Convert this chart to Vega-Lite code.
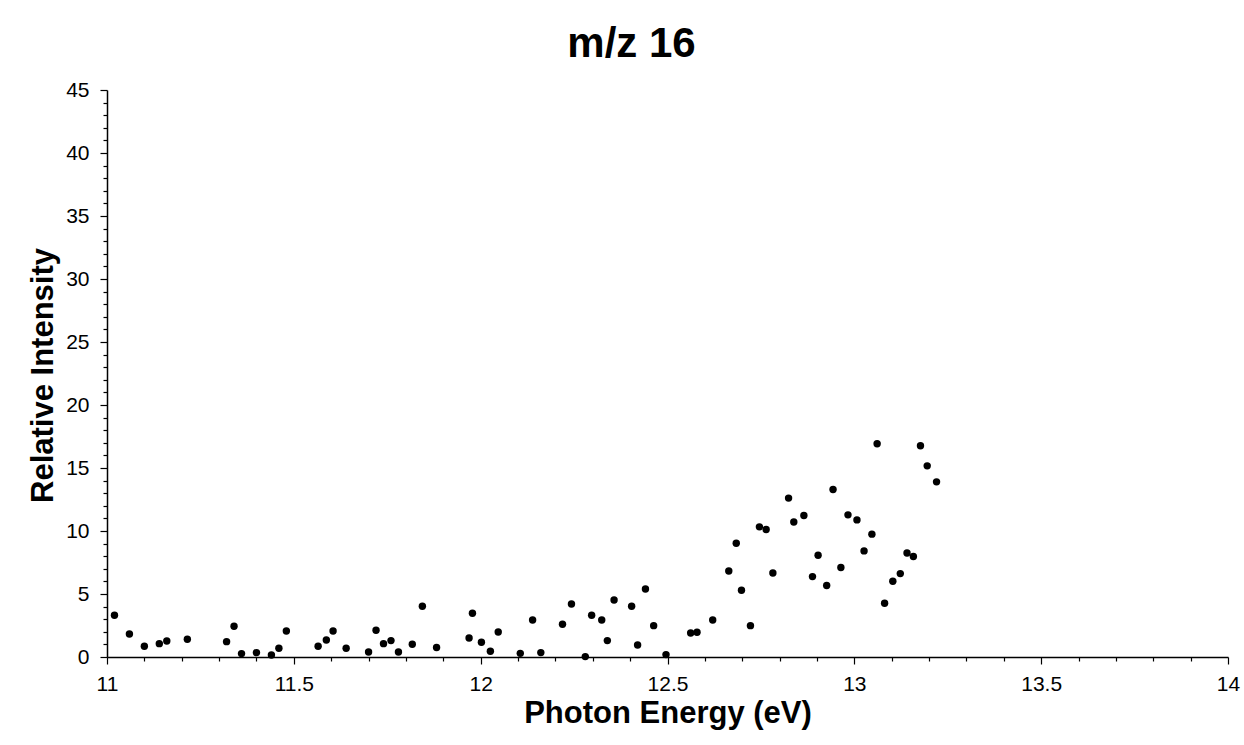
{
  "$schema": "https://vega.github.io/schema/vega-lite/v6.json",
  "width": 1121,
  "height": 567,
  "autosize": {"type": "none"},
  "padding": {"left": 107, "top": 90, "right": 16, "bottom": 88},
  "background": "white",
  "config": {
    "font": "Liberation Sans",
    "view": {"stroke": null},
    "axis": {"grid": false, "domainColor": "black", "domainWidth": 1.5, "tickColor": "black", "tickWidth": 1.2, "labelColor": "black", "labelFont": "Liberation Sans", "titleFont": "Liberation Sans", "titleColor": "black"}
  },
  "title": {"text": "m/z 16", "fontSize": 42, "fontWeight": "bold", "font": "Liberation Sans", "color": "black", "anchor": "middle", "dx": -36, "offset": 13},
  "data": {"values": [
    {"energy": 11.02, "intensity": 3.31},
    {"energy": 11.06, "intensity": 1.83},
    {"energy": 11.10, "intensity": 0.85},
    {"energy": 11.14, "intensity": 1.06},
    {"energy": 11.16, "intensity": 1.27},
    {"energy": 11.215, "intensity": 1.41},
    {"energy": 11.32, "intensity": 1.22},
    {"energy": 11.34, "intensity": 2.44},
    {"energy": 11.36, "intensity": 0.27},
    {"energy": 11.40, "intensity": 0.35},
    {"energy": 11.44, "intensity": 0.16},
    {"energy": 11.46, "intensity": 0.69},
    {"energy": 11.48, "intensity": 2.07},
    {"energy": 11.565, "intensity": 0.85},
    {"energy": 11.587, "intensity": 1.35},
    {"energy": 11.605, "intensity": 2.07},
    {"energy": 11.64, "intensity": 0.69},
    {"energy": 11.70, "intensity": 0.40},
    {"energy": 11.72, "intensity": 2.12},
    {"energy": 11.74, "intensity": 1.06},
    {"energy": 11.76, "intensity": 1.30},
    {"energy": 11.78, "intensity": 0.40},
    {"energy": 11.817, "intensity": 1.01},
    {"energy": 11.844, "intensity": 4.03},
    {"energy": 11.882, "intensity": 0.75},
    {"energy": 11.969, "intensity": 1.51},
    {"energy": 11.978, "intensity": 3.47},
    {"energy": 12.002, "intensity": 1.17},
    {"energy": 12.026, "intensity": 0.45},
    {"energy": 12.047, "intensity": 1.99},
    {"energy": 12.106, "intensity": 0.29},
    {"energy": 12.139, "intensity": 2.94},
    {"energy": 12.161, "intensity": 0.35},
    {"energy": 12.219, "intensity": 2.60},
    {"energy": 12.243, "intensity": 4.21},
    {"energy": 12.280, "intensity": 0.03},
    {"energy": 12.297, "intensity": 3.31},
    {"energy": 12.324, "intensity": 2.94},
    {"energy": 12.339, "intensity": 1.30},
    {"energy": 12.357, "intensity": 4.53},
    {"energy": 12.404, "intensity": 4.03},
    {"energy": 12.420, "intensity": 0.95},
    {"energy": 12.441, "intensity": 5.40},
    {"energy": 12.463, "intensity": 2.49},
    {"energy": 12.496, "intensity": 0.19},
    {"energy": 12.562, "intensity": 1.91},
    {"energy": 12.579, "intensity": 1.96},
    {"energy": 12.621, "intensity": 2.94},
    {"energy": 12.664, "intensity": 6.83},
    {"energy": 12.684, "intensity": 9.03},
    {"energy": 12.698, "intensity": 5.30},
    {"energy": 12.722, "intensity": 2.49},
    {"energy": 12.746, "intensity": 10.33},
    {"energy": 12.764, "intensity": 10.12},
    {"energy": 12.782, "intensity": 6.67},
    {"energy": 12.824, "intensity": 12.61},
    {"energy": 12.838, "intensity": 10.72},
    {"energy": 12.865, "intensity": 11.23},
    {"energy": 12.888, "intensity": 6.38},
    {"energy": 12.903, "intensity": 8.08},
    {"energy": 12.926, "intensity": 5.67},
    {"energy": 12.943, "intensity": 13.30},
    {"energy": 12.964, "intensity": 7.10},
    {"energy": 12.983, "intensity": 11.28},
    {"energy": 13.007, "intensity": 10.88},
    {"energy": 13.026, "intensity": 8.42},
    {"energy": 13.047, "intensity": 9.75},
    {"energy": 13.061, "intensity": 16.92},
    {"energy": 13.081, "intensity": 4.27},
    {"energy": 13.103, "intensity": 6.01},
    {"energy": 13.123, "intensity": 6.62},
    {"energy": 13.141, "intensity": 8.26},
    {"energy": 13.158, "intensity": 7.97},
    {"energy": 13.177, "intensity": 16.76},
    {"energy": 13.195, "intensity": 15.17},
    {"energy": 13.220, "intensity": 13.90}
  ]},
  "mark": {"type": "point", "filled": true, "shape": "circle", "size": 55, "color": "black", "opacity": 1},
  "encoding": {
    "x": {
      "field": "energy", "type": "quantitative",
      "scale": {"domain": [11, 14], "nice": false, "zero": false},
      "axis": {
        "values": [11, 11.1, 11.2, 11.3, 11.4, 11.5, 11.6, 11.7, 11.8, 11.9, 12, 12.1, 12.2, 12.3, 12.4, 12.5, 12.6, 12.7, 12.8, 12.9, 13, 13.1, 13.2, 13.3, 13.4, 13.5, 13.6, 13.7, 13.8, 13.9, 14],
        "format": "~g",
        "labelExpr": "abs(datum.value*2 - round(datum.value*2)) < 0.001 ? datum.label : ''",
        "tickSize": {"condition": {"test": "abs(datum.value*2 - round(datum.value*2)) < 0.001", "value": 7}, "value": 4},
        "labelFontSize": 21,
        "labelPadding": 9,
        "labelFlush": false,
        "labelOverlap": false,
        "title": "Photon Energy (eV)",
        "titleFontSize": 31,
        "titleFontWeight": "bold",
        "titleY": 65,
        "titleBaseline": "alphabetic"
      }
    },
    "y": {
      "field": "intensity", "type": "quantitative",
      "scale": {"domain": [0, 45], "nice": false},
      "axis": {
        "values": [0,1,2,3,4,5,6,7,8,9,10,11,12,13,14,15,16,17,18,19,20,21,22,23,24,25,26,27,28,29,30,31,32,33,34,35,36,37,38,39,40,41,42,43,44,45],
        "labelExpr": "datum.value % 5 == 0 ? datum.label : ''",
        "tickSize": {"condition": {"test": "datum.value % 5 == 0", "value": 7}, "value": 4},
        "labelFontSize": 21,
        "labelPadding": 11,
        "labelFlush": false,
        "labelOverlap": false,
        "title": "Relative Intensity",
        "titleFontSize": 31,
        "titleFontWeight": "bold",
        "titleX": -64,
        "titleY": 285,
        "titleBaseline": "middle"
      }
    }
  }
}
